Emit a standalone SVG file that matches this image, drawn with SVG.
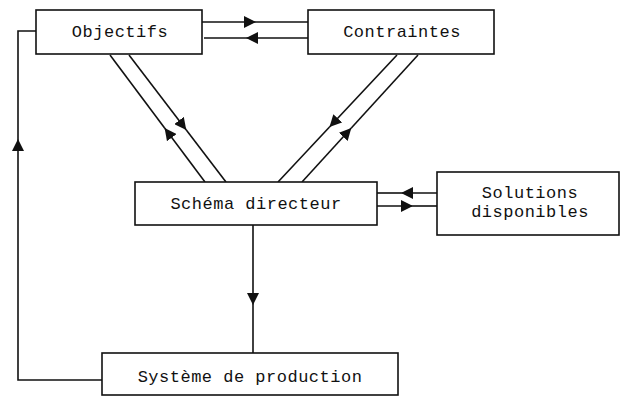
<svg xmlns="http://www.w3.org/2000/svg" width="621" height="397" viewBox="0 0 621 397">
<style>
.box{fill:#fff;stroke:#111;stroke-width:1.6}
.t{font-family:"Liberation Mono","DejaVu Sans Mono",monospace;font-size:17px;letter-spacing:0.5px;fill:#111;text-anchor:middle}
.c{fill:none;stroke:#111;stroke-width:1.6}
</style>
<defs>
<marker id="ah" markerUnits="userSpaceOnUse" markerWidth="14" markerHeight="12" refX="12" refY="6" orient="auto">
<path d="M0,0 L12,6 L0,12 z" fill="#111"/>
</marker>
</defs>
<rect width="621" height="397" fill="#fff"/>
<g id="connectors">
<line class="c" x1="202" y1="22" x2="256" y2="22" marker-end="url(#ah)"/>
<line class="c" x1="256" y1="22" x2="308" y2="22"/>
<line class="c" x1="308" y1="38" x2="246" y2="38" marker-end="url(#ah)"/>
<line class="c" x1="246" y1="38" x2="204" y2="38"/>
<line class="c" x1="437" y1="193" x2="401" y2="193" marker-end="url(#ah)"/>
<line class="c" x1="401" y1="193" x2="377" y2="193"/>
<line class="c" x1="377" y1="206" x2="413" y2="206" marker-end="url(#ah)"/>
<line class="c" x1="413" y1="206" x2="437" y2="206"/>
<line class="c" x1="253" y1="225" x2="253" y2="305" marker-end="url(#ah)"/>
<line class="c" x1="253" y1="305" x2="253" y2="353"/>
<polyline class="c" points="102,380 18,380 18,139" marker-end="url(#ah)"/>
<polyline class="c" points="18,139 18,31 36,31"/>
<line class="c" x1="205" y1="182" x2="164.6" y2="128" marker-end="url(#ah)"/>
<line class="c" x1="164.6" y1="128" x2="110" y2="55"/>
<line class="c" x1="129" y1="55" x2="186.3" y2="130" marker-end="url(#ah)"/>
<line class="c" x1="186.3" y1="130" x2="226" y2="182"/>
<line class="c" x1="397" y1="55" x2="329.5" y2="127" marker-end="url(#ah)"/>
<line class="c" x1="329.5" y1="127" x2="278" y2="182"/>
<line class="c" x1="302" y1="182" x2="351.3" y2="128" marker-end="url(#ah)"/>
<line class="c" x1="351.3" y1="128" x2="418" y2="55"/>
</g>
<g id="objectifs">
<rect class="box" x="36" y="10" width="166" height="44"/>
<text class="t" x="120" y="37">Objectifs</text>
</g>
<g id="contraintes">
<rect class="box" x="308" y="10" width="186" height="44"/>
<text class="t" x="402" y="37">Contraintes</text>
</g>
<g id="schema">
<rect class="box" x="135" y="182" width="242" height="43"/>
<text class="t" x="256" y="209">Schéma directeur</text>
</g>
<g id="solutions">
<rect class="box" x="437" y="172" width="182" height="63"/>
<text class="t" x="530" y="198">Solutions</text>
<text class="t" x="530" y="217">disponibles</text>
</g>
<g id="systeme">
<rect class="box" x="102" y="353" width="296" height="42"/>
<text class="t" x="250" y="382">Système de production</text>
</g>
</svg>
